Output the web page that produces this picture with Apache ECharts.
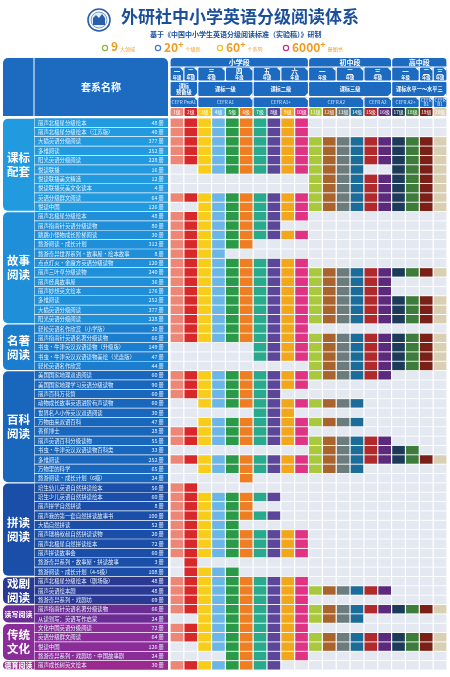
<!DOCTYPE html>
<html><head><meta charset="utf-8">
<script src="https://cdn.jsdelivr.net/npm/echarts/dist/echarts.min.js"></script>
<style>html,body{margin:0;padding:0;background:#fff}#c{width:450px;height:677px}</style>
</head><body><div id="c"></div>
<script>
// ---------------- DATA ----------------
const levelLabels = ['1级','2级','3级','4级','5级','6级','7级','8级','9级','10级','11级','12级','13级','14级','15级','16级','17级','18级','19级','20级'];
const levelColors = ['#ec8677','#d9282a','#f7cd1a','#6bb6e6','#2a9a48','#ee7d23','#2aaa8c','#5c4699','#f2a61b','#e03483',
                     '#a9c83d','#a9642d','#6c7b7b','#1b6c99','#b02a2c','#5c2a7c','#1b3b58','#3d7c3a','#7a2018','#d9d0b4'];
const emptyColor = '#e3e8f1';

const groupNames  = ['课标\n配套','故事\n阅读','名著\n阅读','百科\n阅读','拼读\n阅读','戏剧\n阅读','读写阅读','传统\n文化','德育阅读'];
const groupColors = ['#229ae0','#1f8fda','#1b7dcd','#1967bd','#1b4ea8','#2a3a94','#6b2c94','#8a2d99','#9b2a8f'];

const seriesNames = [
  '丽声北极星分级绘本','丽声北极星分级绘本（江苏版）','大猫英语分级阅读','多维阅读','阳光英语分级阅读','悦读联播','悦读联播美文精选','悦读联播英美文化读本','英语分级群文阅读','悦读中国',
  '丽声北极星分级绘本','丽声指南针英语分级读物','跳跳小怪物成长阶梯阅读','悠游阅读·成长计划','悠游奇异世界系列·故事屋·绘本故事','点点灯火·金魔方英语分级读物','丽声三叶草分级读物','丽声经典故事屋','丽声妙想英文绘本','多维阅读','大猫英语分级阅读','阳光英语分级阅读',
  '轻松英语名作欣赏（小学版）','丽声指南针英语名著分级读物','书虫·牛津英汉双语读物（升级版）','书虫·牛津英汉双语读物美绘（光盘版）','轻松英语名作欣赏',
  '美国国家地理双语阅读','美国国家地理学习英语分级读物','丽声百科万花筒','动物成长故事英语进阶有声读物','世界名人小传英汉双语阅读','万物由来双语百科','香蕉博士','丽声英语百科分级读物','书虫·牛津英汉双语读物百科类','多维阅读','万物里的科学','悠游阅读·成长计划（6级）',
  '培生幼儿英语自然拼读绘本','培生少儿英语自然拼读绘本','丽声拼学自然拼读','丽声我的第一套自然拼读故事书','大猫自然拼读','丽声瑞格叔叔自然拼读读物','丽声北极星自然拼读绘本','丽声拼读故事会','悠游奇异系列·故事屋·拼读故事','悠游阅读·成长计划（4-5级）',
  '丽声北极星分级绘本（剧场版）','丽声英语绘本剧','悠游奇异系列·戏剧坊',
  '丽声指南针英语名著分级读物','从读到写：英语写作启蒙',
  '文化中国英语分级阅读','英语分级群文阅读','悦读中国','悠游奇异系列·戏剧坊·中国故事剧',
  '丽声成长树英文绘本'
];
const bookCounts = [
  48,40,377,252,228,16,12,4,64,126,
  48,80,30,312,8,120,240,36,176,252,377,228,
  20,66,149,47,44,
  60,90,60,60,30,47,28,55,33,252,65,24,
  56,60,8,100,52,20,72,60,3,108,
  48,48,69,
  66,24,
  72,64,126,24,
  30
];
const rowGroup = [
  0,0,0,0,0,0,0,0,0,0,
  1,1,1,1,1,1,1,1,1,1,1,1,
  2,2,2,2,2,
  3,3,3,3,3,3,3,3,3,3,3,3,
  4,4,4,4,4,4,4,4,4,4,
  5,5,5,
  6,6,
  7,7,7,7,
  8
];
// level ranges covered by each series
const coverage = [
  '1-10','1-10','1-20','1-20','1-20','3-14,17-20','11-20','11-20','1-20','3-20',
  '1-10','1-8','1-10','1-6','1-4','1-10','1-20','1-16','1-16','1-20','1-20','1-20',
  '1-10','1-20','7-20','7-20','11-20',
  '1-16','1-10','1-8','3-14','7-9','3-14','1-10','1-16','11-18','1-20','3-14','6-6',
  '1-2','1-8','1-6','1-8','1-5','1-10','1-10','1-10','2-2','2-5',
  '1-10','1-16','1-10',
  '1-20','3-14',
  '1-10','1-20','3-20','5-10',
  '1-8'
];

// header labels
const stageLabels = ['小学段','初中段','高中段'];
const stageSpans  = [[0,10],[10,16],[16,20]];
const gradeLabels = ['一','二','三','四','五','六','一','二','三','一','二','三'];
const gradeSpans  = [[0,1],[1,2],[2,4],[4,6],[6,8],[8,10],[10,12],[12,14],[14,16],[16,18],[18,19],[19,20]];
const standardLabels = ['课标\n预备级','课标一级','课标二级','课标三级','课标水平一～水平三'];
const standardSpans  = [[0,2],[2,6],[6,10],[10,16],[16,20]];
const cefrLabels = ['CEFR PreA1','CEFR A1','CEFR A1+','CEFR A2','CEFR A2','CEFR A2+','CEFR\nB1','CEFR\nB1'];
const cefrSpans  = [[0,2],[2,6],[6,10],[10,14],[14,16],[16,18],[18,19],[19,20]];

// ---------------- BUILD ----------------
const FONT = '"Noto Sans CJK SC","Noto Sans",sans-serif';
const NROWS = seriesNames.length;
const TOP = 118, BOT = 670;
const HEADER_BLUE = '#1d6bc1';

function covered(r, c) { // c is 1-based level
  return coverage[r].split(',').some(s => { const [a,b] = s.split('-').map(Number); return c >= a && c <= b; });
}
const cellData = [];
for (let r = 0; r < NROWS; r++) for (let c = 0; c < 20; c++) cellData.push([c, r, covered(r, c + 1) ? 1 : 0]);

const nameData = seriesNames.map((n, i) => [0, i, rowGroup[i]]);

const groupData = [];
rowGroup.forEach((g, i) => {
  if (!groupData.length || groupData[groupData.length - 1][2] !== g) groupData.push([i, i + 1, g]);
  else groupData[groupData.length - 1][1] = i + 1;
});

// header rows (in header pixel units)
const headerRows = [[0, 8.5], [9.5, 22.5], [24, 38], [39.5, 49], [50, 58]];
const headerData = [];
stageSpans.forEach((s, i) => headerData.push([s[0], s[1], 0, i]));
gradeSpans.forEach((s, i) => headerData.push([s[0], s[1], 1, i]));
standardSpans.forEach((s, i) => headerData.push([s[0], s[1], 2, i]));
cefrSpans.forEach((s, i) => headerData.push([s[0], s[1], 3, i]));
levelLabels.forEach((l, i) => headerData.push([i, i + 1, 4, i]));

const chart = echarts.init(document.getElementById('c'), null, { renderer: 'canvas', width: 450, height: 677 });

const statRich = {
  n: { fill: '#f39a1e', font: 'bold 12px ' + FONT },
  p: { fill: '#f39a1e', font: 'bold 9px ' + FONT, padding: [0, 0, 4, 0] },
  s: { fill: '#f39a1e', font: '5px ' + FONT, padding: [5, 0, 0, 2] }
};

const option = {
  animation: false,
  backgroundColor: '#fff',
  grid: [
    { left: 3, top: TOP, width: 30, height: BOT - TOP },
    { left: 34.5, top: TOP, width: 133.5, height: BOT - TOP },
    { left: 170, top: TOP, width: 277, height: BOT - TOP },
    { left: 170, top: 58, width: 277, height: 58 }
  ],
  xAxis: [0, 1, 2, 3].map(i => ({ gridIndex: i, type: 'value', min: 0, max: i >= 2 ? 20 : 1, show: false })),
  yAxis: [0, 1, 2, 3].map(i => ({ gridIndex: i, type: 'value', min: 0, max: i === 3 ? 58 : NROWS, inverse: true, show: false })),
  graphic: [
    // logo
    { type: 'circle', shape: { cx: 99, cy: 20, r: 11 }, style: { fill: '#fff', stroke: '#2a5ea8', lineWidth: 1.6 } },
    { type: 'circle', shape: { cx: 99, cy: 20, r: 8 }, style: { fill: '#e6eef8', stroke: '#2a5ea8', lineWidth: 0.6 } },
    { type: 'polygon', shape: { points: [[93,25],[93,18],[96,15],[99,18],[102,14],[105,18],[105,25]] }, style: { fill: '#2a5ea8' } },
    { type: 'text', left: 121, top: 8, style: { text: '外研社中小学英语分级阅读体系', fill: '#1b4f9b', font: 'bold 17px ' + FONT } },
    { type: 'text', left: 150, top: 31, style: { text: '基于《中国中小学生英语分级阅读标准（实验稿）》研制', fill: '#1b4f9b', font: 'bold 7px ' + FONT } },
    // stats
    { type: 'circle', shape: { cx: 105, cy: 48, r: 2.6 }, style: { fill: '#fff', stroke: '#8ab83a', lineWidth: 1.2 } },
    { type: 'circle', shape: { cx: 158, cy: 48, r: 2.6 }, style: { fill: '#fff', stroke: '#4a7ad0', lineWidth: 1.2 } },
    { type: 'circle', shape: { cx: 220, cy: 48, r: 2.6 }, style: { fill: '#fff', stroke: '#f0c020', lineWidth: 1.2 } },
    { type: 'circle', shape: { cx: 286, cy: 48, r: 2.6 }, style: { fill: '#fff', stroke: '#c0308a', lineWidth: 1.2 } },
    { type: 'text', left: 111, top: 40.5, style: { text: '{n|9}{s|大领域}', rich: statRich } },
    { type: 'text', left: 164, top: 40.5, style: { text: '{n|20}{p|+}{s|个级别}', rich: statRich } },
    { type: 'text', left: 226, top: 40.5, style: { text: '{n|60}{p|+}{s|个系列}', rich: statRich } },
    { type: 'text', left: 292, top: 40.5, style: { text: '{n|6000}{p|+}{s|册图书}', rich: statRich } },
    // header left blocks
    { type: 'rect', shape: { x: 3, y: 58, width: 30.5, height: 58, r: [5, 0, 0, 0] }, style: { fill: HEADER_BLUE } },
    { type: 'rect', shape: { x: 34.5, y: 58, width: 133.5, height: 58, r: [0, 5, 0, 0] }, style: { fill: HEADER_BLUE } },
    { type: 'text', left: 81, top: 82, style: { text: '套系名称', fill: '#fff', font: 'bold 10px ' + FONT } }
  ],
  series: [
    { // group labels
      type: 'custom', xAxisIndex: 0, yAxisIndex: 0, data: groupData, clip: false,
      encode: { x: [], y: [0, 1] },
      renderItem: (p, api) => {
        const s = api.value(0), e = api.value(1), g = api.value(2);
        const a = api.coord([0, s]), b = api.coord([1, e]);
        const h = b[1] - a[1];
        const single = groupNames[g].indexOf('\n') < 0;
        return { type: 'group', children: [
          { type: 'rect', shape: { x: a[0], y: a[1] + 0.7, width: b[0] - a[0] + 1, height: h - 1.4, r: [5, 0, 0, 5] }, style: { fill: groupColors[g] } },
          { type: 'text', style: { text: groupNames[g], x: (a[0] + b[0]) / 2 + 0.5, y: (a[1] + b[1]) / 2, align: 'center', verticalAlign: 'middle', fill: '#fff',
            font: 'bold ' + (single ? 7 : 11.5) + 'px ' + FONT, lineHeight: 14 } }
        ] };
      }
    },
    { // series names
      type: 'custom', xAxisIndex: 1, yAxisIndex: 1, data: nameData, clip: false,
      encode: { x: 0, y: 1 },
      renderItem: (p, api) => {
        const r = api.value(1), g = api.value(2);
        const a = api.coord([0, r]), b = api.coord([1, r + 1]);
        return { type: 'group', children: [
          { type: 'rect', shape: { x: a[0], y: a[1] + 0.35, width: b[0] - a[0], height: b[1] - a[1] - 0.7 }, style: { fill: groupColors[g] } },
          { type: 'text', style: { text: seriesNames[r], x: a[0] + 3.5, y: (a[1] + b[1]) / 2, align: 'left', verticalAlign: 'middle', fill: '#e8f3ff', font: '5.4px ' + FONT } },
          { type: 'text', style: { text: bookCounts[r] + ' 册', x: b[0] - 4, y: (a[1] + b[1]) / 2, align: 'right', verticalAlign: 'middle', fill: '#e8f3ff', font: '5.4px ' + FONT } }
        ] };
      }
    },
    { // level cells
      type: 'custom', xAxisIndex: 2, yAxisIndex: 2, data: cellData, clip: false,
      encode: { x: 0, y: 1 },
      renderItem: (p, api) => {
        const c = api.value(0), r = api.value(1), on = api.value(2);
        const a = api.coord([c, r]), b = api.coord([c + 1, r + 1]);
        return { type: 'rect', shape: { x: a[0] + 0.6, y: a[1] + 0.45, width: b[0] - a[0] - 1.2, height: b[1] - a[1] - 0.9 },
          style: { fill: on ? levelColors[c] : emptyColor } };
      }
    },
    { // header boxes
      type: 'custom', xAxisIndex: 3, yAxisIndex: 3, data: headerData, clip: false,
      encode: { x: [0, 1], y: 2 },
      renderItem: (p, api) => {
        const x0 = api.value(0), x1 = api.value(1), k = api.value(2), i = api.value(3);
        const yr = headerRows[k];
        const a = api.coord([x0, yr[0]]), b = api.coord([x1, yr[1]]);
        const x = a[0] + 0.6, y = a[1], w = b[0] - a[0] - 1.2, h = b[1] - a[1];
        const cx = x + w / 2, cy = y + h / 2;
        const fill = k === 4 ? levelColors[i] : HEADER_BLUE;
        const ch = [{ type: 'rect', shape: { x, y, width: w, height: h, r: k === 0 ? [3, 3, 0, 0] : 1 }, style: { fill } }];
        if (k === 0) ch.push({ type: 'text', style: { text: stageLabels[i], x: cx, y: cy, align: 'center', verticalAlign: 'middle', fill: '#fff', font: 'bold 7px ' + FONT } });
        if (k === 1) {
          ch.push({ type: 'polygon', shape: { points: [[x + w - 3.5, y], [x + w, y], [x + w, y + 3.5]] }, style: { fill: '#fff' } });
          ch.push({ type: 'text', style: { text: '{b|' + gradeLabels[i] + '}\n{s|年级}', x: cx, y: cy, align: 'center', verticalAlign: 'middle',
            rich: { b: { fill: '#fff', font: 'bold 6.5px ' + FONT, lineHeight: 7, align: 'center' }, s: { fill: '#fff', font: 'bold 4.3px ' + FONT, lineHeight: 5, align: 'center' } } } });
        }
        if (k === 2) {
          ch.push({ type: 'polygon', shape: { points: [[x + w - 3, y + h], [x + w, y + h], [x + w, y + h - 3]] }, style: { fill: '#fff' } });
          ch.push({ type: 'text', style: { text: standardLabels[i], x: cx, y: cy, align: 'center', verticalAlign: 'middle', fill: '#fff', font: 'bold 5.2px ' + FONT, lineHeight: 6 } });
        }
        if (k === 3) {
          ch.push({ type: 'polygon', shape: { points: [[x + w - 3, y], [x + w, y], [x + w, y + 3]] }, style: { fill: '#fff' } });
          ch.push({ type: 'text', style: { text: cefrLabels[i], x: cx, y: cy, align: 'center', verticalAlign: 'middle', fill: '#d6e6fa', font: '4.6px ' + FONT, lineHeight: 4.6 } });
        }
        if (k === 4) ch.push({ type: 'text', style: { text: levelLabels[i], x: cx, y: cy, align: 'center', verticalAlign: 'middle', fill: '#fff', font: '4.8px ' + FONT } });
        return { type: 'group', children: ch };
      }
    }
  ]
};
chart.setOption(option);
</script>
</body></html>
